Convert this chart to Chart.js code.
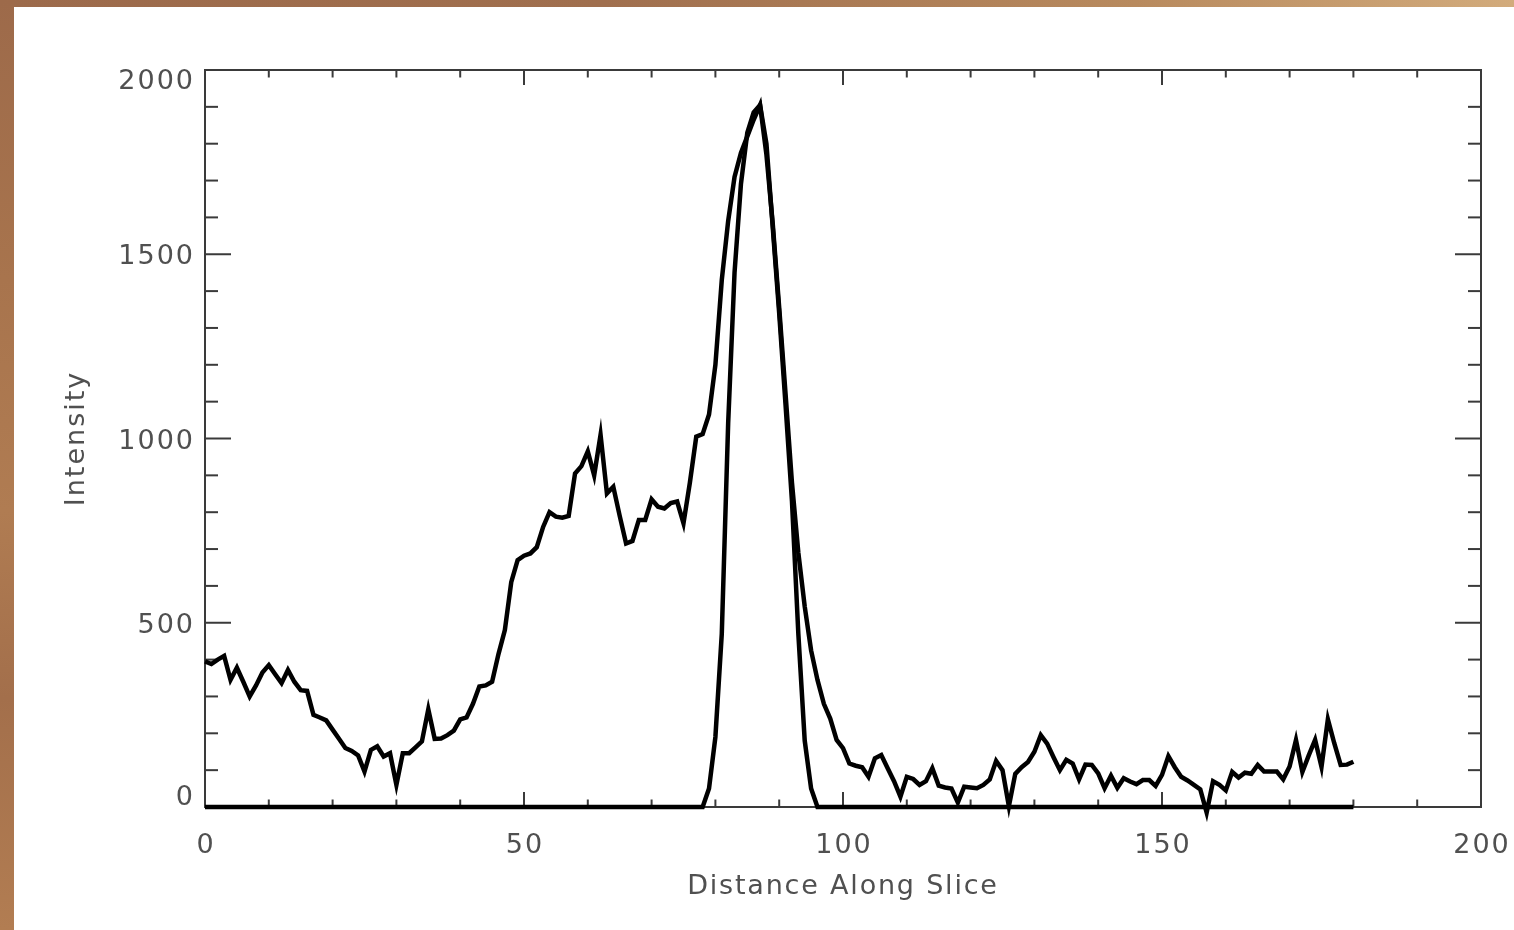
<!DOCTYPE html>
<html>
<head>
<meta charset="utf-8">
<script src="https://cdn.jsdelivr.net/npm/chart.js@4.4.1/dist/chart.umd.min.js"></script>
<style>
  html, body { margin: 0; padding: 0; width: 1514px; height: 930px; overflow: hidden; }
  body { background: linear-gradient(90deg, #9c6a4b 0%, #a06f4e 40%, #b88a5e 75%, #d2ab7c 100%); position: relative; }
  #panel { position: absolute; left: 14px; top: 7px; right: 0; bottom: 0; background: #ffffff; }
  #leftStrip { position: absolute; left: 0; top: 0; width: 14px; bottom: 0;
    background: linear-gradient(180deg, #9d6a4a 0%, #a8744d 30%, #b07c52 55%, #a36f4b 75%, #b27d52 100%); }
  #c { position: absolute; left: 0; top: 0; }
</style>
</head>
<body>
<div id="leftStrip"></div>
<div id="panel"></div>
<canvas id="c" width="1514" height="930"></canvas>
<script>
// ---- data ----
const distance = Array.from({ length: 181 }, (_, i) => i);

const profileIntensity = [
  395, 388, 400, 410, 345, 378, 340, 300, 330, 365,
  385, 360, 336, 372, 340, 317, 315, 250, 243, 235,
  210, 185, 160, 152, 140, 96, 155, 165, 137, 146,
  60, 146, 146, 162, 178, 265, 185, 186, 195, 207,
  238, 243, 280, 327, 330, 340, 415, 480, 610, 670,
  682, 688, 705, 760, 800, 788, 785, 790, 905, 925,
  965, 900, 1010, 851, 869, 790, 715, 722, 779, 779,
  835, 815, 810, 825, 829, 770, 880, 1005, 1012, 1065,
  1200, 1430, 1590, 1710, 1775, 1820, 1865, 1905, 1770, 1580,
  1355, 1120, 880, 690, 544, 425, 345, 280, 240, 182,
  160, 118, 112, 108, 82, 132, 141, 105, 70, 28,
  82, 76, 60, 70, 105, 58, 53, 50, 12, 55,
  53, 51, 60, 75, 125, 100, 2, 90, 108, 122,
  150, 195, 172, 135, 100, 128, 118, 75, 115, 114,
  91, 51, 85, 52, 78, 69, 62, 73, 73, 57,
  87, 138, 108, 82, 72, 60, 48, -15, 70, 60,
  45, 95, 80, 93, 90, 114, 96, 96, 96, 75,
  110, 182, 95, 140, 182, 109, 238, 173, 114, 115,
  123
];

const fitIntensity = [
  0, 0, 0, 0, 0, 0, 0, 0, 0, 0,
  0, 0, 0, 0, 0, 0, 0, 0, 0, 0,
  0, 0, 0, 0, 0, 0, 0, 0, 0, 0,
  0, 0, 0, 0, 0, 0, 0, 0, 0, 0,
  0, 0, 0, 0, 0, 0, 0, 0, 0, 0,
  0, 0, 0, 0, 0, 0, 0, 0, 0, 0,
  0, 0, 0, 0, 0, 0, 0, 0, 0, 0,
  0, 0, 0, 0, 0, 0, 0, 0, 0, 50,
  190, 470, 1041, 1450, 1690, 1830, 1885, 1905, 1800, 1570,
  1340, 1090, 830, 470, 180, 50, 0, 0, 0, 0,
  0, 0, 0, 0, 0, 0, 0, 0, 0, 0,
  0, 0, 0, 0, 0, 0, 0, 0, 0, 0,
  0, 0, 0, 0, 0, 0, 0, 0, 0, 0,
  0, 0, 0, 0, 0, 0, 0, 0, 0, 0,
  0, 0, 0, 0, 0, 0, 0, 0, 0, 0,
  0, 0, 0, 0, 0, 0, 0, 0, 0, 0,
  0, 0, 0, 0, 0, 0, 0, 0, 0, 0,
  0, 0, 0, 0, 0, 0, 0, 0, 0, 0,
  0
];

const xMajorTicks = [0, 50, 100, 150, 200];
const xMinorTicks = [10, 20, 30, 40, 60, 70, 80, 90, 110, 120, 130, 140, 160, 170, 180, 190];
const yMajorTicks = [0, 500, 1000, 1500, 2000];
const yMinorTicks = [100, 200, 300, 400, 600, 700, 800, 900, 1100, 1200, 1300, 1400, 1600, 1700, 1800, 1900];
const xTitle = 'Distance Along Slice';
const yTitle = 'Intensity';

// ---- style ----
const AXIS_COLOR = '#3a3a3a';
const TEXT_COLOR = '#505050';
const FONT = '27px "DejaVu Sans", "Liberation Sans", sans-serif';

const idlAxes = {
  id: 'idlAxes',
  beforeDatasetsDraw(chart) {
    const { ctx, chartArea: a, scales: { x, y } } = chart;
    ctx.save();
    ctx.strokeStyle = AXIS_COLOR;
    ctx.lineWidth = 2;
    ctx.strokeRect(a.left, a.top, a.right - a.left, a.bottom - a.top);
    const line = (x1, y1, x2, y2) => { ctx.beginPath(); ctx.moveTo(x1, y1); ctx.lineTo(x2, y2); ctx.stroke(); };
    const xLenMajor = 15, xLenMinor = 7.5, yLenMajor = 26, yLenMinor = 13;
    xMajorTicks.forEach(v => { const px = x.getPixelForValue(v); line(px, a.bottom, px, a.bottom - xLenMajor); line(px, a.top, px, a.top + xLenMajor); });
    xMinorTicks.forEach(v => { const px = x.getPixelForValue(v); line(px, a.bottom, px, a.bottom - xLenMinor); line(px, a.top, px, a.top + xLenMinor); });
    yMajorTicks.forEach(v => { const py = y.getPixelForValue(v); line(a.left, py, a.left + yLenMajor, py); line(a.right, py, a.right - yLenMajor, py); });
    yMinorTicks.forEach(v => { const py = y.getPixelForValue(v); line(a.left, py, a.left + yLenMinor, py); line(a.right, py, a.right - yLenMinor, py); });
    ctx.restore();
  },
  afterDraw(chart) {
    const { ctx, chartArea: a, scales: { x, y } } = chart;
    ctx.save();
    ctx.fillStyle = TEXT_COLOR;
    ctx.font = FONT;
    ctx.letterSpacing = '2px';
    // y tick labels
    ctx.textAlign = 'right';
    ctx.textBaseline = 'middle';
    yMajorTicks.forEach(v => {
      let py = y.getPixelForValue(v) + 3;
      py = Math.max(a.top + 12, Math.min(a.bottom - 9, py));
      ctx.fillText(String(v), a.left - 10, py);
    });
    // x tick labels
    ctx.textAlign = 'center';
    xMajorTicks.forEach(v => {
      ctx.fillText(String(v), x.getPixelForValue(v) + 1, a.bottom + 39);
    });
    // titles
    ctx.letterSpacing = '1.8px';
    ctx.fillText(xTitle, (a.left + a.right) / 2, a.bottom + 80);
    ctx.translate(77, (a.top + a.bottom) / 2);
    ctx.rotate(-Math.PI / 2);
    ctx.letterSpacing = '2px';
    ctx.fillText(yTitle, 0, 0);
    ctx.restore();
  }
};

new Chart(document.getElementById('c'), {
  type: 'line',
  data: {
    datasets: [
      {
        label: 'Profile',
        data: distance.map((d, i) => ({ x: d, y: profileIntensity[i] })),
        borderColor: '#000000',
        borderWidth: 4.5,
        pointRadius: 0,
        tension: 0,
        borderJoinStyle: 'miter',
        clip: false
      },
      {
        label: 'Fit',
        data: distance.map((d, i) => ({ x: d, y: fitIntensity[i] })),
        borderColor: '#000000',
        borderWidth: 4.5,
        pointRadius: 0,
        tension: 0,
        clip: false
      }
    ]
  },
  options: {
    responsive: false,
    animation: false,
    devicePixelRatio: 1,
    layout: { padding: { left: 205, top: 70, right: 33, bottom: 123 } },
    plugins: { legend: { display: false }, tooltip: { enabled: false } },
    scales: {
      x: { type: 'linear', min: 0, max: 200, display: false },
      y: { type: 'linear', min: 0, max: 2000, display: false }
    }
  },
  plugins: [idlAxes]
});
</script>
</body>
</html>
